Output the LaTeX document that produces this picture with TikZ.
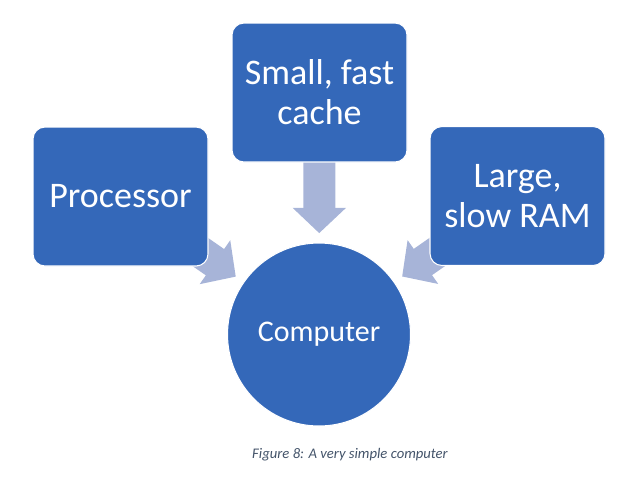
\documentclass[tikz,border=0pt]{standalone}
\usepackage{fontspec}
\setmainfont{Carlito}
\usetikzlibrary{arrows.meta,backgrounds}
\definecolor{boxblue}{RGB}{52,104,185}
\definecolor{arrowblue}{RGB}{167,180,216}
\definecolor{captiongray}{RGB}{68,84,106}

\begin{document}
\begin{tikzpicture}[x=0.75pt,y=-0.75pt,
  unit/.style={rectangle, rounded corners=9pt, fill=boxblue, draw=white, line width=0.8pt, minimum width=131.25pt, minimum height=104.25pt, text=white, align=center, font=\fontsize{27}{30}\selectfont},
  core/.style={circle, fill=boxblue, draw=white, line width=0.8pt, minimum size=137.25pt, text=white, font=\fontsize{22.5}{27}\selectfont},
  flow/.style={arrowblue, line width=24pt, -{Triangle[length=19pt,width=39pt]}, shorten >=7pt}]
  \useasboundingbox (0,0) rectangle (639,476);
  \node[core] (comp) at (319,334.5) {Computer};
  \node[unit] (proc) at (120.5,196.5) {Processor};
  \node[unit] (cache) at (319.5,92.5) {Small, fast\\cache};
  \node[unit] (ram) at (517.5,196) {Large,\\slow RAM};
  \begin{scope}[on background layer]
    \draw[flow] (proc.center) -- (comp);
    \draw[flow] (cache.center) -- (comp);
    \draw[flow] (ram.center) -- (comp);
  \end{scope}
  \node[text=captiongray, font=\itshape\fontsize{11}{13}\selectfont] (caption) at (350,455) {Figure 8: A very simple computer};
\end{tikzpicture}
\end{document}
